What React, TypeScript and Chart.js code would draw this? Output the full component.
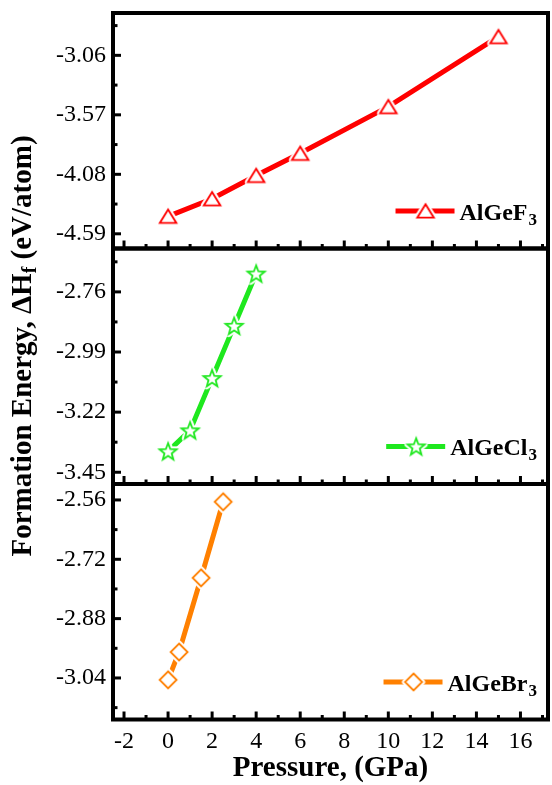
import React, { useEffect, useRef } from 'react';
import { Chart, registerables } from 'chart.js';

Chart.register(...registerables);

// ---------- data ----------
const X_TICKS = [-2, 0, 2, 4, 6, 8, 10, 12, 14, 16];
const X_MIN = -2.5;
const X_MAX = 17.25;

const F_PRESSURE = [0, 2, 4, 6, 10, 15];
const F_ENERGY = [-4.44, -4.29, -4.09, -3.9, -3.5, -2.9];

const CL_PRESSURE = [0, 1, 2, 3, 4];
const CL_ENERGY = [-3.37, -3.29, -3.09, -2.89, -2.69];

const BR_PRESSURE = [0, 0.5, 1.5, 2.5];
const BR_ENERGY = [-3.045, -2.97, -2.77, -2.565];

const F_TICKS = [-3.06, -3.57, -4.08, -4.59];
const CL_TICKS = [-2.76, -2.99, -3.22, -3.45];
const BR_TICKS = [-2.56, -2.72, -2.88, -3.04];

const F_RANGE = [-4.716, -2.697];
const CL_RANGE = [-3.495, -2.594];
const BR_RANGE = [-3.152, -2.517];

const LABELS = ['AlGeF3', 'AlGeCl3', 'AlGeBr3'];
const X_TITLE = 'Pressure, (GPa)';
const Y_TITLE_MAIN = 'Formation Energy, \u0394H';
const Y_TITLE_SUB = 'f';
const Y_TITLE_END = ' (eV/atom)';

// ---------- styles ----------
const SERIF = '"Liberation Serif", "Times New Roman", serif';
const RED = '#ff0000';
const GREEN = '#1ee81e';
const ORANGE = '#ff8000';

function makeMarker(shape: string, color: string) {
  const size = 30;
  const c = document.createElement('canvas');
  c.width = size;
  c.height = size;
  const g = c.getContext('2d')!;
  const cx = size / 2;
  const cy = size / 2;
  const pts: [number, number][] = [];
  if (shape === 'triangle') {
    const w = 8.3, h = 13.4;
    pts.push([cx, cy - h / 2], [cx + w, cy + h / 2], [cx - w, cy + h / 2]);
  } else if (shape === 'diamond') {
    const r = 8.5;
    pts.push([cx, cy - r], [cx + r, cy], [cx, cy + r], [cx - r, cy]);
  } else {
    const R = 9, r = 3.8;
    for (let i = 0; i < 10; i++) {
      const a = -Math.PI / 2 + (i * Math.PI) / 5;
      const rr = i % 2 ? r : R;
      pts.push([cx + rr * Math.cos(a), cy + 0.8 + rr * Math.sin(a)]);
    }
  }
  const path = () => {
    g.beginPath();
    pts.forEach(([x, y], i) => (i ? g.lineTo(x, y) : g.moveTo(x, y)));
    g.closePath();
  };
  path();
  g.lineJoin = 'round';
  g.strokeStyle = '#fff';
  g.lineWidth = 6;
  g.stroke();
  g.fillStyle = '#fff';
  g.fill();
  path();
  g.lineJoin = 'miter';
  g.strokeStyle = color;
  g.lineWidth = 1.8;
  g.stroke();
  return c;
}

const midpoints = (ticks: number[]) => {
  const s = [...ticks].sort((a, b) => a - b);
  const step = s[1] - s[0];
  const out: number[] = [];
  for (let v = s[0] - step / 2; v <= s[s.length - 1] + step; v += step) out.push(v);
  return out;
};

const PANELS = [
  { id: 'yF', ticks: F_TICKS },
  { id: 'yCl', ticks: CL_TICKS },
  { id: 'yBr', ticks: BR_TICKS },
];

const framePlugin = {
  id: 'frame',
  afterDatasetsDraw(chart: any) {
    const ctx = chart.ctx;
    const { left, right } = chart.chartArea;
    const xs = chart.scales.x;
    ctx.save();
    ctx.strokeStyle = '#000';
    const xMinor = midpoints(X_TICKS);
    PANELS.forEach((p) => {
      const s = chart.scales[p.id];
      const line = (x1: number, y1: number, x2: number, y2: number) => {
        ctx.beginPath();
        ctx.moveTo(x1, y1);
        ctx.lineTo(x2, y2);
        ctx.stroke();
      };
      ctx.lineWidth = 3;
      X_TICKS.forEach((v) => {
        const px = xs.getPixelForValue(v);
        line(px, s.bottom, px, s.bottom - 8);
      });
      xMinor.forEach((v) => {
        if (v <= X_MIN || v >= X_MAX) return;
        const px = xs.getPixelForValue(v);
        line(px, s.bottom, px, s.bottom - 4.5);
      });
      p.ticks.forEach((v) => {
        const py = s.getPixelForValue(v);
        line(left, py, left + 8, py);
      });
      midpoints(p.ticks).forEach((v) => {
        if (v <= s.min || v >= s.max) return;
        const py = s.getPixelForValue(v);
        line(left, py, left + 4.5, py);
      });
      ctx.lineWidth = 4;
      ctx.strokeRect(left, s.top, right - left, s.bottom - s.top);
    });
    ctx.restore();
  },
};

const legendPlugin = {
  id: 'panelLegend',
  afterDatasetsDraw(chart: any) {
    const ctx = chart.ctx;
    const right = chart.chartArea.right;
    ctx.save();
    chart.data.datasets.forEach((ds: any) => {
      const s = chart.scales[ds.yAxisID];
      const lineY = s.bottom - 37.5;
      const m = /^(.*?)(\d+)$/.exec(ds.label);
      const base = m ? m[1] : ds.label;
      const sub = m ? m[2] : '';
      ctx.font = `bold 24px ${SERIF}`;
      const wb = ctx.measureText(base).width;
      ctx.font = `bold 17px ${SERIF}`;
      const ws = ctx.measureText(sub).width;
      const ts = right - 11 - ws - 1 - wb;
      ctx.strokeStyle = ds.borderColor;
      ctx.lineWidth = 5;
      ctx.beginPath();
      ctx.moveTo(ts - 64, lineY);
      ctx.lineTo(ts - 5, lineY);
      ctx.stroke();
      const img = ds.pointStyle;
      ctx.drawImage(img, ts - 34 - img.width / 2, lineY - img.height / 2);
      ctx.fillStyle = '#000';
      ctx.textAlign = 'left';
      ctx.textBaseline = 'alphabetic';
      ctx.font = `bold 24px ${SERIF}`;
      ctx.fillText(base, ts, lineY + 8.5);
      ctx.font = `bold 17px ${SERIF}`;
      ctx.fillText(sub, ts + wb + 1, lineY + 13.5);
    });
    ctx.restore();
  },
};

const yTitlePlugin = {
  id: 'yTitle',
  afterDraw(chart: any) {
    const ctx = chart.ctx;
    ctx.save();
    ctx.translate(30.5, 346);
    ctx.rotate(-Math.PI / 2);
    ctx.fillStyle = '#000';
    ctx.textAlign = 'left';
    ctx.textBaseline = 'alphabetic';
    const big = `bold 29px ${SERIF}`;
    const small = `bold 20px ${SERIF}`;
    ctx.font = big;
    const w1 = ctx.measureText(Y_TITLE_MAIN).width;
    const w3 = ctx.measureText(Y_TITLE_END).width;
    ctx.font = small;
    const w2 = ctx.measureText(Y_TITLE_SUB).width;
    const total = w1 + w2 + w3;
    let x = -total / 2;
    ctx.font = big;
    ctx.fillText(Y_TITLE_MAIN, x, 0);
    x += w1;
    ctx.font = small;
    ctx.fillText(Y_TITLE_SUB, x, 5);
    x += w2;
    ctx.font = big;
    ctx.fillText(Y_TITLE_END, x, 0);
    ctx.restore();
  },
};

function yScale(range: number[], ticks: number[], weight: number) {
  return {
    type: 'linear',
    position: 'left',
    stack: 'panels',
    stackWeight: 1,
    weight,
    min: range[0],
    max: range[1],
    grid: { display: false, drawTicks: false },
    border: { display: false },
    ticks: {
      font: { family: SERIF, size: 24 },
      color: '#000',
      padding: 7,
      autoSkip: false,
      callback: (v: any) => Number(v).toFixed(2),
    },
    afterBuildTicks: (s: any) => {
      s.ticks = ticks.map((v) => ({ value: v }));
    },
    afterFit: (s: any) => {
      s.width = 113;
      s.paddingTop = 0;
      s.paddingBottom = 0;
    },
  };
}

export default function App() {
  const ref = useRef<HTMLCanvasElement>(null);
  useEffect(() => {
    const mk = (px: number[], en: number[]) => px.map((p, i) => ({ x: p, y: en[i] }));
    const series = [
      { label: LABELS[0], data: mk(F_PRESSURE, F_ENERGY), color: RED, marker: 'triangle', axis: 'yF' },
      { label: LABELS[1], data: mk(CL_PRESSURE, CL_ENERGY), color: GREEN, marker: 'star', axis: 'yCl' },
      { label: LABELS[2], data: mk(BR_PRESSURE, BR_ENERGY), color: ORANGE, marker: 'diamond', axis: 'yBr' },
    ];
    const chart = new Chart(ref.current!, {
      type: 'line',
      data: {
        datasets: series.map((s) => ({
          label: s.label,
          data: s.data,
          xAxisID: 'x',
          yAxisID: s.axis,
          borderColor: s.color,
          backgroundColor: s.color,
          borderWidth: 5,
          tension: 0,
          fill: false,
          pointStyle: makeMarker(s.marker, s.color) as any,
          pointRadius: 9,
        })),
      },
      options: {
        responsive: false,
        animation: false,
        devicePixelRatio: 1,
        layout: { autoPadding: false, padding: { left: 0, top: 13, right: 4, bottom: 0 } },
        plugins: { legend: { display: false }, tooltip: { enabled: false }, title: { display: false } },
        scales: {
          x: {
            type: 'linear',
            position: 'bottom',
            min: X_MIN,
            max: X_MAX,
            grid: { display: false, drawTicks: false },
            border: { display: false },
            ticks: {
              font: { family: SERIF, size: 24 },
              color: '#000',
              padding: 8,
              maxRotation: 0,
              autoSkip: false,
              callback: (v: any) => String(v),
            },
            afterBuildTicks: (s: any) => {
              s.ticks = X_TICKS.map((v) => ({ value: v }));
            },
            afterFit: (s: any) => {
              s.height = 65.5;
              s.paddingLeft = 0;
              s.paddingRight = 0;
            },
            title: {
              display: true,
              text: X_TITLE,
              color: '#000',
              font: { family: SERIF, size: 29, weight: 'bold' },
              padding: { top: 0, bottom: -1 },
            },
          },
          yF: yScale(F_RANGE, F_TICKS, 3),
          yCl: yScale(CL_RANGE, CL_TICKS, 2),
          yBr: yScale(BR_RANGE, BR_TICKS, 1),
        } as any,
      },
      plugins: [framePlugin, legendPlugin, yTitlePlugin],
    } as any);
    return () => chart.destroy();
  }, []);
  return (
    <div style={{ position: 'absolute', left: 0, top: 0, width: 552, height: 785, background: '#fff' }}>
      <canvas ref={ref} width={552} height={785} style={{ display: 'block', width: 552, height: 785 }} />
    </div>
  );
}
